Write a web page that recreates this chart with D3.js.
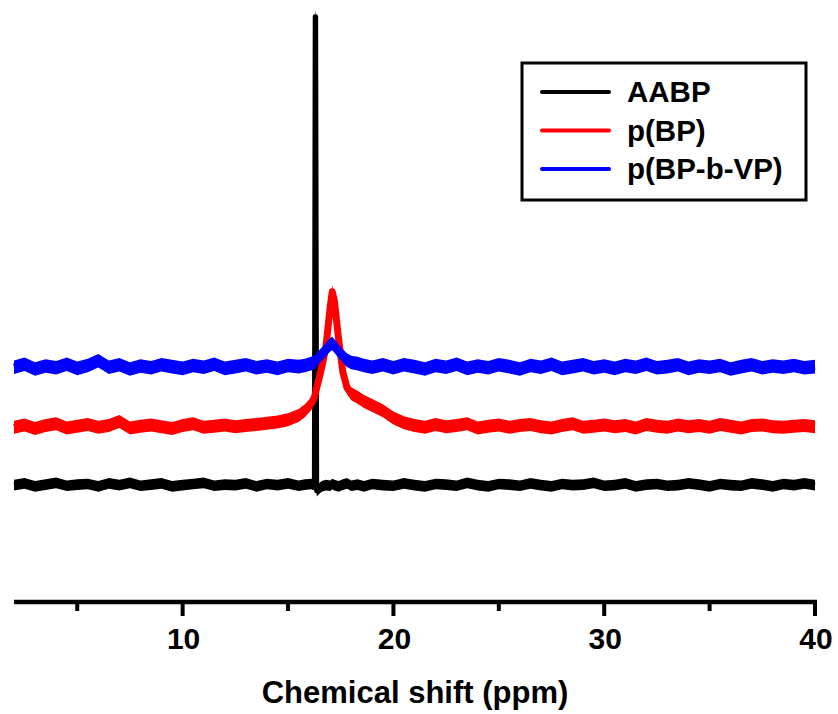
<!DOCTYPE html>
<html>
<head>
<meta charset="UTF-8">
<title>Chemical shift spectra</title>
<script src="https://cdnjs.cloudflare.com/ajax/libs/d3/7.8.5/d3.min.js"></script>
<style>
    body { margin: 0; background: #fff; }
    svg { display: block; font-family: "Liberation Sans", Arial, sans-serif; }
    .axis-label { font-size: 31px; font-weight: bold; }
    .tick-label { font-size: 30px; font-weight: bold; }
    .legend-text { font-size: 29.5px; font-weight: bold; }
</style>
</head>
<body>
<svg width="838" height="714"></svg>
<script>
// sampling positions (ppm), denser around the peak
var ppm = [2.0, 2.5, 3.0, 3.5, 4.0, 4.5, 5.0, 5.5, 6.0, 6.5, 7.0, 7.5, 8.0, 8.5, 9.0, 9.5,
    10.0, 10.5, 11.0, 11.5, 12.0, 12.5, 13.0, 13.5, 14.0, 14.5, 15.0, 15.5,
    15.8, 16.1, 16.25, 16.29, 16.31, 16.36, 16.5, 16.6, 16.8, 17.0, 17.1, 17.2, 17.4, 17.6, 17.8,
    18.0, 18.3, 18.6, 19.0, 19.5,
    20.0, 20.5, 21.0, 21.5, 22.0, 22.5, 23.0, 23.5, 24.0, 24.5, 25.0, 25.5, 26.0, 26.5, 27.0, 27.5,
    28.0, 28.5, 29.0, 29.5, 30.0, 30.5, 31.0, 31.5, 32.0, 32.5, 33.0, 33.5, 34.0, 34.5, 35.0, 35.5,
    36.0, 36.5, 37.0, 37.5, 38.0, 38.5, 39.0, 39.5, 40.0];

var seriesNames = ["AABP", "p(BP)", "p(BP-b-VP)"];
var seriesColors = ["#000000", "#ff0000", "#0000ff"];

// stacked intensities (arbitrary units, offset traces)
var aabp = [19.8, 20.1, 19.6, 19.9, 20.2, 19.7, 19.9, 20.0, 19.6, 20.1, 19.8, 20.2, 19.7, 19.9, 20.1, 19.6,
    19.8, 20.0, 20.2, 19.7, 19.9, 19.8, 20.1, 19.6, 20.0, 19.8, 20.1, 19.7,
    19.9, 20.0, 19.8, 99.2, 99.2, 18.8, 19.3, 19.6, 19.8, 19.7, 20.0, 19.8, 19.6, 19.9, 20.1,
    19.7, 19.9, 19.6, 20.0, 19.8,
    19.7, 20.1, 19.8, 19.6, 20.0, 19.9, 19.7, 20.2, 19.8, 19.6, 20.0, 19.9, 19.7, 20.1, 19.8, 19.6,
    20.0, 19.8, 19.9, 20.2, 19.7, 19.8, 20.1, 19.6, 19.9, 20.0, 19.7, 19.8, 20.1, 19.9, 19.6, 20.0,
    19.8, 19.7, 20.1, 19.9, 19.6, 20.0, 19.8, 20.1, 19.8];

var pbp = [29.6, 30.0, 29.4, 29.9, 30.2, 29.5, 29.8, 30.1, 29.6, 29.9, 30.6, 29.5, 29.8, 30.0, 29.7, 29.4,
    29.9, 30.2, 29.6, 29.8, 30.0, 29.7, 29.9, 30.1, 30.3, 30.5, 30.9, 31.6,
    32.4, 33.6, 34.7, 35.2, 35.5, 36.3, 38.3, 39.8, 43.3, 50.0, 52.6, 51.0, 44.5, 39.0, 36.3,
    35.3, 34.7, 34.0, 33.3, 32.4,
    31.2, 30.4, 29.9, 29.6, 30.1, 29.7, 29.9, 30.2, 29.5, 29.8, 30.0, 29.6, 29.9, 30.1, 29.7, 29.5,
    29.9, 30.2, 29.6, 29.8, 30.0, 29.7, 29.9, 29.5, 30.1, 29.8, 29.6, 30.0, 29.7, 29.9, 29.6, 30.1,
    29.8, 29.5, 29.9, 30.0, 29.7, 29.6, 29.8, 29.9, 29.7];

var pbpvp = [39.8, 40.3, 39.5, 40.0, 39.7, 40.3, 39.6, 40.1, 40.9, 39.8, 40.2, 39.5, 40.0, 39.7, 40.2, 39.9,
    39.6, 40.1, 39.8, 40.3, 39.6, 39.9, 40.2, 39.7, 40.0, 39.6, 40.1, 39.9,
    40.1, 40.4, 40.7, 40.8, 40.9, 41.1, 41.6, 42.0, 42.8, 43.6, 43.8, 43.4, 42.5, 41.7, 41.0,
    40.6, 40.4, 40.1, 39.8, 40.2,
    39.7, 40.2, 39.9, 39.5, 40.1, 39.8, 40.3, 39.6, 40.0, 39.7, 40.2, 39.9, 39.5, 40.1, 39.8, 40.3,
    39.6, 39.9, 40.2, 39.7, 40.0, 39.6, 40.1, 39.8, 40.3, 39.7, 39.9, 40.2, 39.6, 40.0, 39.8, 40.1,
    39.5, 39.9, 40.2, 39.7, 40.0, 39.8, 40.1, 39.7, 39.9];

var majorTicks = [10, 20, 30, 40];
var minorTicks = [5, 15, 25, 35];

var svg = d3.select("svg");

var x = d3.scaleLinear().domain([2, 40]).range([14, 815]);
var y = d3.scaleLinear().domain([0, 100]).range([602, 12]);

// noise makes each trace a band of roughly constant vertical thickness
var traces = [
    { values: aabp, color: seriesColors[0], band: 0.9, width: 5 },
    { values: pbp, color: seriesColors[1], band: 1.1, width: 7 },
    { values: pbpvp, color: seriesColors[2], band: 1.15, width: 7 }
];

var line = d3.line()
    .x(function (d, i) { return x(ppm[i]); })
    .y(function (d) { return y(d); });

var traceG = svg.selectAll(".trace")
    .data(traces)
    .enter()
    .append("g")
    .attr("class", "trace");

traceG.append("path")
    .attr("d", function (t) {
        return d3.area()
            .x(function (d, i) { return x(ppm[i]); })
            .y0(function (d) { return y(d - t.band); })
            .y1(function (d) { return y(d + t.band); })(t.values);
    })
    .attr("fill", function (t) { return t.color; });

traceG.append("path")
    .attr("d", function (t) { return line(t.values); })
    .attr("fill", "none")
    .attr("stroke", function (t) { return t.color; })
    .attr("stroke-width", function (t) { return t.width; })
    .attr("stroke-linejoin", "round");

// bottom axis
var axisG = svg.append("g");

axisG.append("line")
    .attr("x1", x(2)).attr("x2", x(40) + 2)
    .attr("y1", 602).attr("y2", 602)
    .attr("stroke", "#000")
    .attr("stroke-width", 4.5);

axisG.selectAll(".major")
    .data(majorTicks)
    .enter()
    .append("line")
    .attr("class", "major")
    .attr("x1", function (d) { return x(d); })
    .attr("x2", function (d) { return x(d); })
    .attr("y1", 602).attr("y2", 616)
    .attr("stroke", "#000")
    .attr("stroke-width", 4);

axisG.selectAll(".minor")
    .data(minorTicks)
    .enter()
    .append("line")
    .attr("class", "minor")
    .attr("x1", function (d) { return x(d); })
    .attr("x2", function (d) { return x(d); })
    .attr("y1", 602).attr("y2", 611)
    .attr("stroke", "#000")
    .attr("stroke-width", 4);

axisG.selectAll(".tick-label")
    .data(majorTicks)
    .enter()
    .append("text")
    .attr("class", "tick-label")
    .attr("x", function (d) { return x(d) + 1; })
    .attr("y", 649)
    .attr("text-anchor", "middle")
    .text(function (d) { return d; });

svg.append("text")
    .attr("class", "axis-label")
    .attr("x", 415)
    .attr("y", 703)
    .attr("text-anchor", "middle")
    .text("Chemical shift (ppm)");

// legend
var legend = svg.append("g");

legend.append("rect")
    .attr("x", 522).attr("y", 63)
    .attr("width", 284).attr("height", 137)
    .attr("fill", "#fff")
    .attr("stroke", "#000")
    .attr("stroke-width", 3);

var items = legend.selectAll(".item")
    .data(seriesNames)
    .enter()
    .append("g")
    .attr("class", "item")
    .attr("transform", function (d, i) { return "translate(0," + (92 + i * 38.5) + ")"; });

items.append("line")
    .attr("x1", 542).attr("x2", 609)
    .attr("y1", 0).attr("y2", 0)
    .attr("stroke", function (d, i) { return seriesColors[i]; })
    .attr("stroke-width", 4)
    .attr("stroke-linecap", "round");

items.append("text")
    .attr("class", "legend-text")
    .attr("x", 627)
    .attr("y", 10)
    .text(function (d) { return d; });
</script>
</body>
</html>
